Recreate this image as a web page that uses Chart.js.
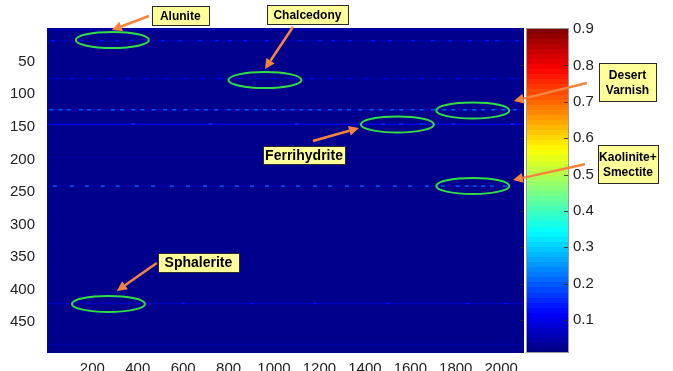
<!DOCTYPE html>
<html>
<head>
<meta charset="utf-8">
<script src="https://cdn.jsdelivr.net/npm/chart.js@4.4.1/dist/chart.umd.min.js"></script>
<style>
  html, body { margin: 0; padding: 0; background: #fff; }
  #wrap { width: 673px; height: 371px; }
</style>
</head>
<body>
<div id="wrap"><canvas id="map" width="673" height="371"></canvas></div>
<script>
// axes
const xTicks = [200, 400, 600, 800, 1000, 1200, 1400, 1600, 1800, 2000];
const yTicks = [50, 100, 150, 200, 250, 300, 350, 400, 450];
const cbTicks = [0.1, 0.2, 0.3, 0.4, 0.5, 0.6, 0.7, 0.8, 0.9];
const colLimits = [0.5, 2100.5];
const rowLimits = [-1.5, 497];
const cLimits = [0.009, 0.903];

// image values: background level, faint full-width rows, bright speckles
const baseLevel = 0.02;
const stripeRows = [1, 18, 76, 124, 146, 197, 241, 421, 484];
const stripeLevels = [0.055, 0.04, 0.04, 0.055, 0.095, 0.032, 0.045, 0.065, 0.045];

const alunitePeaks = [26, 154, 242, 308, 374, 511, 586, 674, 748, 806, 872, 968, 1039, 1114, 1202, 1259,
  1334, 1435, 1510, 1611, 1699, 1774, 1862, 1937, 1981, 2069];
const chalcedonyPeaks = [44, 110, 189, 277, 357, 440, 528, 608, 687, 762, 850, 925, 1004, 1083, 1167, 1246,
  1330, 1410, 1490, 1570, 1650, 1730, 1810, 1890, 1970, 2050];
const varnishPeaks = [20, 60, 95, 150, 185, 230, 290, 330, 380, 420, 470, 520, 560, 610, 660, 700, 745, 800,
  840, 880, 920, 960, 1000, 1040, 1080, 1120, 1160, 1200, 1245, 1290, 1330, 1380, 1430, 1470, 1520, 1560,
  1610, 1650, 1700, 1750, 1790, 1840, 1880, 1920, 1965, 2010, 2060];
const ferriPeaks = [380, 720, 1100, 1480, 1560, 1650, 1790, 2050];
const kaolinitePeaks = [35, 110, 176, 246, 312, 396, 467, 550, 621, 696, 770, 836, 903, 969, 1039, 1105,
  1180, 1246, 1321, 1387, 1457, 1532, 1598, 1673, 1743, 1809, 1849, 1884, 1920, 1959, 2016];
const sphaleritePeaks = [600, 900, 1180, 1500, 1850, 2020];

const peakRows = [18, 76, 124, 146, 241, 421];
const peakLevels = [0.14, 0.12, 0.22, 0.17, 0.22, 0.13];
const peakCols = [alunitePeaks, chalcedonyPeaks, varnishPeaks, ferriPeaks, kaolinitePeaks, sphaleritePeaks];

// callouts (positions in column/row units)
const calloutText = [['Alunite'], ['Chalcedony'], ['Desert', 'Varnish'], ['Ferrihydrite'], ['Kaolinite+', 'Smectite'], ['Sphalerite']];
const ringCenters = [[288, 16.9], [960, 78.3], [1875, 125], [1543, 146.5], [1875, 240.8], [271, 421.8]];
const arrowTails = [[449, -19.9], [1083, -3], [2377, 82.9], [1171, 171.8], [2369, 207.6], [484, 359]];
const arrowHeads = [[286, 1.6], [960, 61.4], [2056, 110.5], [1374, 151.9], [2052, 231.6], [308, 401.9]];
const boxCenters = [[587, -20.7], [1147, -22.2], [2556, 81.3], [1132, 193.3], [2558, 207.6], [667, 358.2]];
const boxSizes = [[57, 19], [81, 19], [57, 38], [82, 18], [60, 38], [81, 19]];
const boxFonts = [12, 12, 12, 14, 12, 14];

function jet(v) {
  const t = (v - cLimits[0]) / (cLimits[1] - cLimits[0]);
  const c = k => Math.round(255 * Math.max(0, Math.min(1, 1.5 - Math.abs(4 * t - k))));
  return `rgb(${c(3)},${c(2)},${c(1)})`;
}

const datasets = [];
datasets.push({
  type: 'line',
  data: [{ x: colLimits[0], y: rowLimits[0] }, { x: colLimits[1], y: rowLimits[0] }],
  fill: { value: rowLimits[1] },
  backgroundColor: jet(baseLevel),
  borderWidth: 0,
  pointRadius: 0,
  order: 10
});
stripeRows.forEach((r, i) => {
  datasets.push({
    type: 'line',
    data: [{ x: colLimits[0], y: r }, { x: colLimits[1], y: r }],
    borderColor: jet(stripeLevels[i]),
    borderWidth: 1.5,
    pointRadius: 0,
    fill: false,
    order: 5
  });
});
peakRows.forEach((r, i) => {
  datasets.push({
    type: 'scatter',
    data: peakCols[i].map(c => ({ x: c, y: r })),
    pointStyle: 'line',
    pointRadius: 2,
    pointBorderWidth: 1.2,
    borderColor: jet(peakLevels[i]),
    backgroundColor: jet(peakLevels[i]),
    order: 1
  });
});

const FONT = "'Liberation Sans', Arial, Helvetica, sans-serif";

const overlay = {
  id: 'overlay',
  afterDraw(chart) {
    const ctx = chart.ctx;
    const xs = chart.scales.x, ys = chart.scales.y, cb = chart.scales.cb;
    const area = chart.chartArea;
    const px = p => [xs.getPixelForValue(p[0]), ys.getPixelForValue(p[1])];

    // colorbar
    const cbL = area.right + 2, cbR = cbL + 43;
    const n = 64, step = (cLimits[1] - cLimits[0]) / n;
    for (let i = 0; i < n; i++) {
      const lo = cLimits[0] + i * step, hi = lo + step;
      const y1 = cb.getPixelForValue(hi), y2 = cb.getPixelForValue(lo);
      ctx.fillStyle = jet(lo + step / 2);
      ctx.fillRect(cbL, Math.floor(y1), cbR - cbL, Math.ceil(y2) - Math.floor(y1));
    }
    ctx.strokeStyle = '#9a9a9a';
    ctx.lineWidth = 1;
    ctx.strokeRect(cbL + 0.5, area.top + 0.5, cbR - cbL - 1, area.bottom - area.top - 1);
    ctx.strokeStyle = 'rgba(40,40,40,0.8)';
    cbTicks.forEach(v => {
      const y = Math.round(cb.getPixelForValue(v)) + 0.5;
      ctx.beginPath();
      ctx.moveTo(cbL - 6, y); ctx.lineTo(cbL - 2, y);
      ctx.moveTo(cbR - 5, y); ctx.lineTo(cbR - 1, y);
      ctx.stroke();
    });

    // rings
    ctx.save();
    ctx.strokeStyle = '#33dd44';
    ctx.lineWidth = 2;
    ringCenters.forEach(c => {
      const [x, y] = px(c);
      ctx.beginPath();
      ctx.ellipse(x, y, 36.5, 8, 0, 0, Math.PI * 2);
      ctx.stroke();
    });

    // arrows
    ctx.strokeStyle = ctx.fillStyle = '#f5843f';
    ctx.lineWidth = 2.5;
    arrowTails.forEach((t, i) => {
      const [x1, y1] = px(t), [x2, y2] = px(arrowHeads[i]);
      const a = Math.atan2(y2 - y1, x2 - x1);
      const hl = 10, hw = 5;
      const bx = x2 - Math.cos(a) * hl, by = y2 - Math.sin(a) * hl;
      ctx.beginPath();
      ctx.moveTo(x1, y1); ctx.lineTo(bx, by);
      ctx.stroke();
      ctx.beginPath();
      ctx.moveTo(x2, y2);
      ctx.lineTo(bx + Math.sin(a) * hw, by - Math.cos(a) * hw);
      ctx.lineTo(bx - Math.sin(a) * hw, by + Math.cos(a) * hw);
      ctx.closePath();
      ctx.fill();
    });

    // label boxes
    calloutText.forEach((lines, i) => {
      const [cx, cy] = px(boxCenters[i]);
      const [w, h] = boxSizes[i];
      const l = Math.round(cx - w / 2) + 0.5, t = Math.round(cy - h / 2) + 0.5;
      ctx.fillStyle = '#ffff99';
      ctx.fillRect(l, t, w, h);
      ctx.strokeStyle = '#2a2a2a';
      ctx.lineWidth = 1;
      ctx.strokeRect(l, t, w, h);
      ctx.fillStyle = '#000';
      ctx.font = `bold ${boxFonts[i]}px ${FONT}`;
      ctx.textAlign = 'center';
      ctx.textBaseline = 'middle';
      const lh = lines.length > 1 ? 15 : 0;
      lines.forEach((s, k) => {
        ctx.fillText(s, cx, cy + (k - (lines.length - 1) / 2) * lh + 1);
      });
    });
    ctx.restore();
  }
};

new Chart(document.getElementById('map'), {
  type: 'scatter',
  data: { datasets },
  options: {
    responsive: false,
    animation: false,
    devicePixelRatio: 1,
    layout: { padding: { top: 28, right: 79, bottom: 0, left: 0 } },
    plugins: { legend: { display: false }, tooltip: { enabled: false } },
    scales: {
      x: {
        type: 'linear',
        min: colLimits[0], max: colLimits[1],
        grid: { display: false }, border: { display: false },
        afterBuildTicks: s => { s.ticks = xTicks.map(v => ({ value: v })); },
        afterFit: s => { s.height = 18; },
        ticks: { autoSkip: false, maxRotation: 0, padding: -1, color: '#222',
          font: { family: FONT, size: 15 }, callback: v => String(v) }
      },
      y: {
        type: 'linear', position: 'left', reverse: true,
        min: rowLimits[0], max: rowLimits[1],
        grid: { display: false }, border: { display: false },
        afterBuildTicks: s => { s.ticks = yTicks.map(v => ({ value: v })); },
        afterFit: s => { s.width = 47; },
        ticks: { autoSkip: false, padding: 4, color: '#222',
          font: { family: FONT, size: 15 }, callback: v => String(v) }
      },
      cb: {
        type: 'linear', position: 'right', axis: 'y',
        min: cLimits[0], max: cLimits[1],
        grid: { display: true, drawOnChartArea: false, drawTicks: true, tickLength: 46, color: 'rgba(0,0,0,0)' },
        border: { display: false },
        afterBuildTicks: s => { s.ticks = cbTicks.map(v => ({ value: v })); },
        afterFit: s => { s.width = 70; },
        ticks: { autoSkip: false, padding: 3, color: '#222',
          font: { family: FONT, size: 15 }, callback: v => v.toFixed(1) }
      }
    }
  },
  plugins: [overlay]
});
</script>
</body>
</html>
